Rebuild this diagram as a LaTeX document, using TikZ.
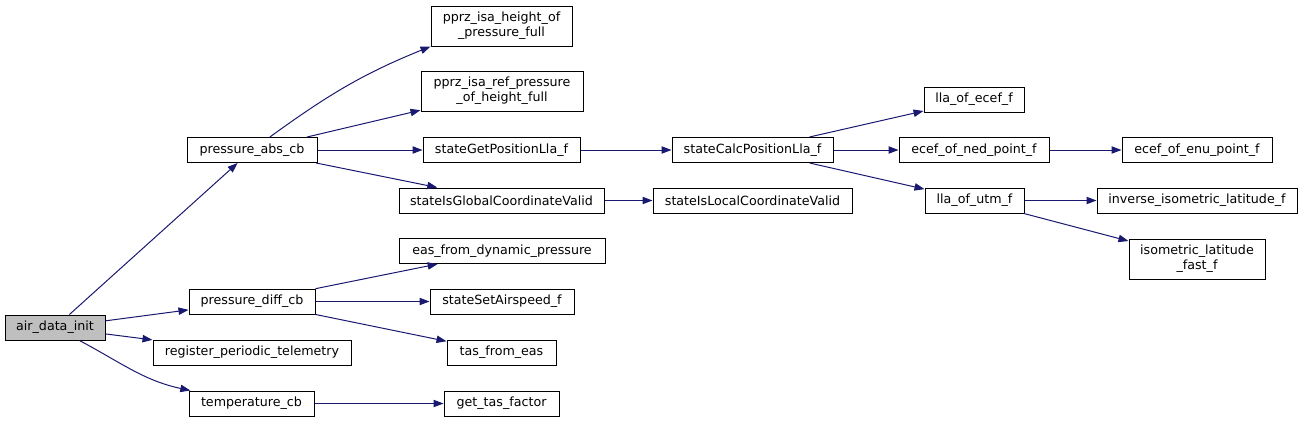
\documentclass[tikz,border=0pt]{standalone}
\usepackage{fontspec}
\setmainfont{DejaVu Sans}
\usetikzlibrary{arrows.meta}
\definecolor{edgeblue}{HTML}{191970}
\definecolor{rootgray}{HTML}{BFBFBF}

\begin{document}
\begin{tikzpicture}[x=0.75pt,y=-0.75pt,
  fn/.style={draw=black,line width=0.75pt,fill=white,inner sep=0pt,
    minimum width=#1*0.75pt,minimum height=18.75pt,align=center,
    font=\fontsize{9.5pt}{11.25pt}\selectfont},
  tall/.style={minimum height=30pt},
  call/.style={draw=edgeblue,line width=0.75pt,
    -{Triangle[length=7.5pt,width=5.5pt,fill=edgeblue]}}]
\useasboundingbox (0,0) rectangle (1303,422);

\node[fn=100,fill=rootgray] (init) at (55,327.5) {air\_data\_init};

\node[fn=130] (abs) at (252,150) {pressure\_abs\_cb};
\node[fn=126] (diff) at (252,301.5) {pressure\_diff\_cb};
\node[fn=198] (telem) at (252,352.5) {register\_periodic\_telemetry};
\node[fn=125] (temp) at (251.5,403.5) {temperature\_cb};

\node[fn=141,tall] (hofp) at (501.5,26) {pprz\_isa\_height\_of\\\_pressure\_full};
\node[fn=162,tall] (pofh) at (502,91) {pprz\_isa\_ref\_pressure\\\_of\_height\_full};
\node[fn=157] (getlla) at (501.5,150) {stateGetPositionLla\_f};
\node[fn=205] (globok) at (501.5,200.5) {stateIsGlobalCoordinateValid};
\node[fn=206] (eas) at (502,251) {eas\_from\_dynamic\_pressure};
\node[fn=144] (setas) at (502,301.5) {stateSetAirspeed\_f};
\node[fn=109] (tas) at (501.5,352.5) {tas\_from\_eas};
\node[fn=115] (tasf) at (501.5,403.5) {get\_tas\_factor};

\node[fn=161] (calclla) at (752.5,150) {stateCalcPositionLla\_f};
\node[fn=199] (locok) at (752.5,200.5) {stateIsLocalCoordinateValid};

\node[fn=100] (llaecef) at (974,99.5) {lla\_of\_ecef\_f};
\node[fn=150] (ecefned) at (974,150) {ecef\_of\_ned\_point\_f};
\node[fn=99] (llautm) at (974.5,200.5) {lla\_of\_utm\_f};

\node[fn=150] (ecefenu) at (1197,150) {ecef\_of\_enu\_point\_f};
\node[fn=200] (invlat) at (1197,200.5) {inverse\_isometric\_latitude\_f};
\node[fn=136,tall] (isolat) at (1197,259) {isometric\_latitude\\\_fast\_f};

% calls from air_data_init
\draw[call] (init) -- (abs);
\draw[call] (init) -- (diff);
\draw[call] (init) -- (telem);
\draw[call] (init) to[out=-28,in=168] (temp);

% second level
\draw[call] (abs.36) to[out=36,in=202] (hofp.south west);
\draw[call] (abs) -- (pofh);
\draw[call] (abs) -- (getlla);
\draw[call] (abs) -- (globok);
\draw[call] (diff) -- (eas);
\draw[call] (diff) -- (setas);
\draw[call] (diff) -- (tas);
\draw[call] (temp) -- (tasf);

% third level
\draw[call] (getlla) -- (calclla);
\draw[call] (globok) -- (locok);
\draw[call] (calclla) -- (llaecef);
\draw[call] (calclla) -- (ecefned);
\draw[call] (calclla) -- (llautm);
\draw[call] (ecefned) -- (ecefenu);
\draw[call] (llautm) -- (invlat);
\draw[call] (llautm) -- (isolat);
\end{tikzpicture}
\end{document}
